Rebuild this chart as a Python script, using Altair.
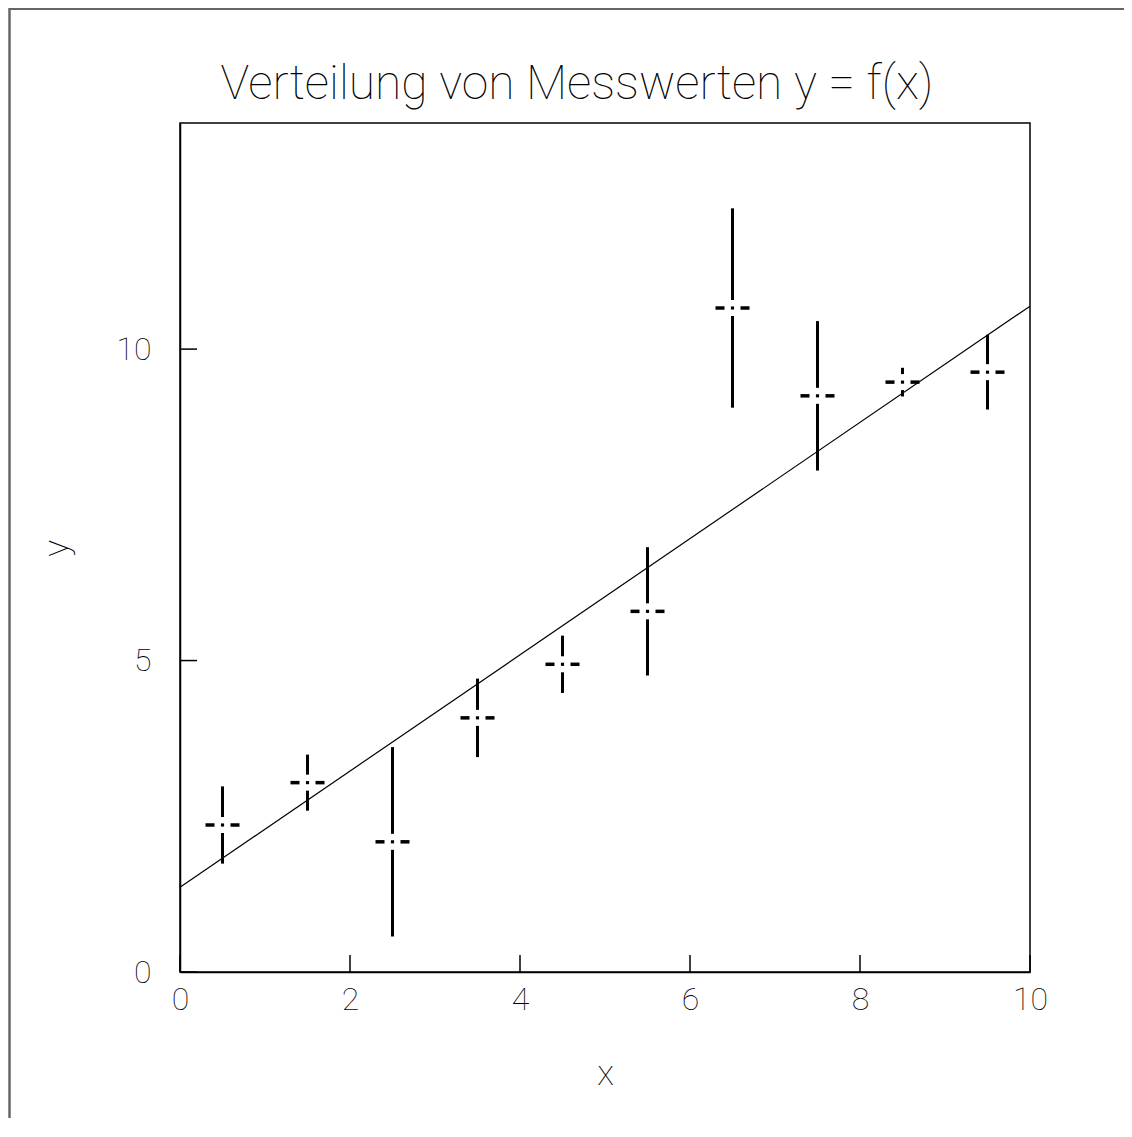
import altair as alt
import pandas as pd

# ---- data ----
x_vals = [0.5, 1.5, 2.5, 3.5, 4.5, 5.5, 6.5, 7.5, 8.5, 9.5]
y_vals = [2.36, 3.04, 2.09, 4.08, 4.94, 5.79, 10.66, 9.25, 9.47, 9.63]
y_err = [0.62, 0.45, 1.52, 0.63, 0.46, 1.03, 1.60, 1.20, 0.23, 0.60]
x_err = [0.2, 0.2, 0.2, 0.2, 0.2, 0.2, 0.2, 0.2, 0.2, 0.2]
fit_x = [0, 10]
fit_y = [1.36, 10.69]
x_ticks = [0, 2, 4, 6, 8, 10]
y_ticks = [0, 5, 10]

TITLE = "Verteilung von Messwerten y = f(x)"

# ---- layout / style ----
W, H = 850, 849
XMIN, XMAX = 0, 10
YMIN, YMAX = 0, 13.63
GAP_PX = 8
gx = GAP_PX * (XMAX - XMIN) / W
gy = GAP_PX * (YMAX - YMIN) / H
FONT = "Roboto"
FW = 100

pts = pd.DataFrame({"x": x_vals, "y": y_vals, "ey": y_err, "ex": x_err})

vseg = []
hseg = []
for xv, yv, ey, ex in zip(x_vals, y_vals, y_err, x_err):
    vseg.append({"x": xv, "ya": yv - ey, "yb": yv - gy})
    vseg.append({"x": xv, "ya": yv + gy, "yb": yv + ey})
    hseg.append({"y": yv, "xa": xv - ex, "xb": xv - gx})
    hseg.append({"y": yv, "xa": xv + gx, "xb": xv + ex})
vseg = pd.DataFrame(vseg)
hseg = pd.DataFrame(hseg)
fit = pd.DataFrame({"x": fit_x, "y": fit_y})
xt = pd.DataFrame({"t": x_ticks})
yt = pd.DataFrame({"t": y_ticks})
ttl = pd.DataFrame({"label": [TITLE]})

X_SCALE = alt.Scale(domain=[XMIN, XMAX], nice=False, zero=False)
Y_SCALE = alt.Scale(domain=[YMIN, YMAX], nice=False, zero=False)
X_AXIS = alt.Axis(values=x_ticks, format="d", title="x", ticks=False, tickSize=0,
                  grid=False, labelPadding=37, labelBaseline="alphabetic", labelFlush=False,
                  labelFont=FONT, labelFontWeight=FW, labelFontSize=32, labelColor="black",
                  titleFont=FONT, titleFontWeight=FW, titleFontSize=35, titleColor="black",
                  domainColor="black", domainWidth=1.5,
                  titleY=112, titleBaseline="alphabetic")
Y_AXIS = alt.Axis(values=y_ticks, format="d", title="y", ticks=False, tickSize=0,
                  grid=False, labelPadding=29, labelFlush=False,
                  labelFont=FONT, labelFontWeight=FW, labelFontSize=32, labelColor="black",
                  titleFont=FONT, titleFontWeight=FW, titleFontSize=35, titleColor="black",
                  domainColor="black", domainWidth=1.5,
                  titleX=-113, titleY=425, titleBaseline="alphabetic")


def X(field, t="quantitative"):
    return alt.X(field, type=t, scale=X_SCALE, axis=X_AXIS)


def Y(field, t="quantitative"):
    return alt.Y(field, type=t, scale=Y_SCALE, axis=Y_AXIS)


fit_line = alt.Chart(fit).mark_line(color="black", strokeWidth=1.2).encode(
    x=X("x"), y=Y("y"))

vbars = alt.Chart(vseg).mark_rule(color="black", strokeWidth=3, strokeCap="butt").encode(
    x=X("x"), y=Y("ya"), y2="yb")

hbars = alt.Chart(hseg).mark_rule(color="black", strokeWidth=3.5, strokeCap="butt").encode(
    x=X("xa"), x2="xb", y=Y("y"))

dots = alt.Chart(pts).mark_square(color="black", filled=True, size=10, opacity=1).encode(
    x=X("x"), y=Y("y"))

xticks = alt.Chart(xt).mark_rule(color="black", strokeWidth=1.5).encode(
    x=X("t"), y=alt.value(H), y2=alt.value(H - 17))

yticks = alt.Chart(yt).mark_rule(color="black", strokeWidth=1.5).encode(
    y=Y("t"), x=alt.value(0), x2=alt.value(17))

title = alt.Chart(ttl).mark_text(
    font=FONT, fontWeight=FW, fontSize=48, color="black",
    align="center", baseline="alphabetic"
).encode(text="label:N", x=alt.value(397), y=alt.value(-24))

# outer canvas frame (decoration)
frame_top = alt.Chart(fit).mark_rule(color="#666666", strokeWidth=2).encode(
    x=alt.value(-171), x2=alt.value(960), y=alt.value(-114))
frame_left = alt.Chart(fit).mark_rule(color="#666666", strokeWidth=2).encode(
    x=alt.value(-170.5), y=alt.value(-115), y2=alt.value(1020))

chart = alt.layer(
    fit_line, vbars, hbars, dots, xticks, yticks, title, frame_top, frame_left
).properties(
    width=W,
    height=H,
    background="white",
    autosize=alt.AutoSizeParams(type="none"),
    padding={"left": 172, "top": 115, "right": 94, "bottom": 146},
).configure_view(
    stroke="black", strokeWidth=1.5
)

chart.save("out.html", embed_options={"renderer": "svg", "actions": False})
